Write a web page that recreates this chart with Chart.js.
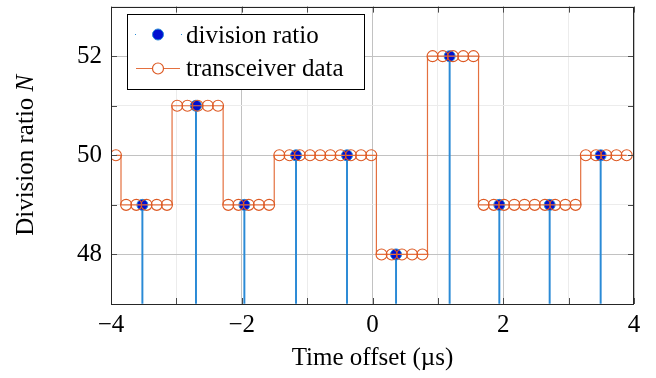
<!DOCTYPE html>
<html>
<head>
<meta charset="utf-8">
<script src="https://cdn.jsdelivr.net/npm/chart.js@4.4.1/dist/chart.umd.min.js"></script>
<style>
  html, body { margin: 0; padding: 0; background: #fff; }
  #wrap { width: 656px; height: 378px; }
</style>
</head>
<body>
<div id="wrap"><canvas id="chart"></canvas></div>
<script>
// Division ratio vs. time offset — stems + stepped transceiver samples

const FONT = "'Liberation Serif', 'Times New Roman', serif";

// transceiver samples (µs) and their division ratio
const sampleTimes = [
  -3.925, -3.769, -3.613, -3.456, -3.300, -3.144, -2.988, -2.831, -2.675, -2.519,
  -2.363, -2.206, -2.050, -1.894, -1.738, -1.581, -1.425, -1.269, -1.113, -0.956,
  -0.800, -0.644, -0.488, -0.331, -0.175, -0.019,  0.138,  0.294,  0.450,  0.606,
   0.763,  0.919,  1.075,  1.231,  1.388,  1.544,  1.700,  1.856,  2.013,  2.169,
   2.325,  2.481,  2.638,  2.794,  2.950,  3.106,  3.263,  3.419,  3.575,  3.731,
   3.888
];
const transceiverN = [
  50, 49, 49, 49, 49, 49, 51, 51, 51, 51,
  51, 49, 49, 49, 49, 49, 50, 50, 50, 50,
  50, 50, 50, 50, 50, 50, 48, 48, 48, 48,
  48, 52, 52, 52, 52, 52, 49, 49, 49, 49,
  49, 49, 49, 49, 49, 49, 50, 50, 50, 50,
  50
];

// division ratio stems
const ratioTimes = [-3.52, -2.70, -1.96, -1.17, -0.39, 0.36, 1.18, 1.94, 2.71, 3.49];
const ratioN     = [49, 51, 49, 50, 50, 48, 52, 49, 49, 50];

const X_MIN = -4, X_MAX = 4, Y_MIN = 47, Y_MAX = 53;

const C_STEM = '#2a8ad6';
const C_DOT = '#0010d0';
const C_LINE = '#e4703f';
const C_CIRC = '#dd5a24';

const fmtNum = v => v < 0 ? '\u2212' + Math.abs(v) : String(v);

const pts = (xs, ys) => xs.map((x, i) => ({ x, y: ys[i] }));

// frame, inward ticks, axis titles and legend box
const decorPlugin = {
  id: 'decor',
  afterDatasetsDraw(chart) {
    const { ctx, chartArea: a, scales: { x, y } } = chart;
    ctx.save();
    ctx.strokeStyle = '#4a4a4a';
    ctx.lineWidth = 1;
    ctx.beginPath();
    for (let v = X_MIN; v <= X_MAX; v++) {
      const px = Math.round(x.getPixelForValue(v)) + 0.5;
      ctx.moveTo(px, a.bottom); ctx.lineTo(px, a.bottom - 6);
      ctx.moveTo(px, a.top); ctx.lineTo(px, a.top + 6);
    }
    for (let v = Y_MIN; v <= Y_MAX; v++) {
      const py = Math.round(y.getPixelForValue(v)) + 0.5;
      ctx.moveTo(a.left, py); ctx.lineTo(a.left + 6, py);
      ctx.moveTo(a.right, py); ctx.lineTo(a.right - 6, py);
    }
    ctx.stroke();
    ctx.strokeStyle = '#262626';
    ctx.strokeRect(Math.round(a.left) + 0.5, Math.round(a.top) + 0.5,
                   Math.round(a.right - a.left) - 1, Math.round(a.bottom - a.top));
    ctx.restore();
  },
  afterDraw(chart) {
    const { ctx, chartArea: a } = chart;
    ctx.save();
    ctx.fillStyle = '#000';

    // x title
    ctx.font = `25px ${FONT}`;
    ctx.textAlign = 'center';
    ctx.textBaseline = 'middle';
    ctx.fillText('Time offset (\u00b5s)', (a.left + a.right) / 2, 358);

    // y title with italic N
    const t1 = 'Division ratio ', t2 = 'N';
    ctx.font = `25px ${FONT}`;
    const w1 = ctx.measureText(t1).width;
    ctx.font = `italic 25px ${FONT}`;
    const w2 = ctx.measureText(t2).width;
    ctx.translate(26, (a.top + a.bottom) / 2);
    ctx.rotate(-Math.PI / 2);
    ctx.textAlign = 'left';
    ctx.font = `25px ${FONT}`;
    ctx.fillText(t1, -(w1 + w2) / 2, 0);
    ctx.font = `italic 25px ${FONT}`;
    ctx.fillText(t2, -(w1 + w2) / 2 + w1, 0);
    ctx.setTransform(1, 0, 0, 1, 0, 0);

    // legend
    const lx = 127, ly = 14, lw = 237, lh = 75;
    ctx.fillStyle = '#fff';
    ctx.fillRect(lx, ly, lw, lh);
    ctx.strokeStyle = '#000';
    ctx.lineWidth = 1;
    ctx.strokeRect(lx + 0.5, ly + 0.5, lw, lh);

    // entry 1: dot
    ctx.fillStyle = C_STEM;
    ctx.fillRect(135, 34, 1, 1);
    ctx.fillRect(181, 34, 1, 1);
    ctx.beginPath();
    ctx.arc(158, 34.5, 5.5, 0, Math.PI * 2);
    ctx.fillStyle = C_DOT;
    ctx.fill();
    ctx.strokeStyle = C_STEM;
    ctx.stroke();

    // entry 2: line + circle
    ctx.strokeStyle = C_LINE;
    ctx.lineWidth = 1.2;
    ctx.beginPath();
    ctx.moveTo(136, 68.5); ctx.lineTo(180, 68.5);
    ctx.stroke();
    ctx.beginPath();
    ctx.arc(158, 68.5, 5.5, 0, Math.PI * 2);
    ctx.fillStyle = '#fff';
    ctx.fill();
    ctx.strokeStyle = C_CIRC;
    ctx.stroke();

    ctx.fillStyle = '#000';
    ctx.font = `25px ${FONT}`;
    ctx.textAlign = 'left';
    ctx.textBaseline = 'alphabetic';
    ctx.fillText('division ratio', 186, 43);
    ctx.fillText('transceiver data', 186, 76);
    ctx.restore();
  }
};

new Chart(document.getElementById('chart'), {
  data: {
    datasets: [
      {
        type: 'line',
        label: 'transceiver data',
        data: pts(sampleTimes, transceiverN),
        stepped: 'middle',
        borderColor: C_LINE,
        borderWidth: 1.2,
        pointRadius: 5.5,
        pointBorderWidth: 1.1,
        pointBorderColor: C_CIRC,
        pointBackgroundColor: 'rgba(0,0,0,0)',
        fill: false,
        order: 0
      },
      {
        type: 'scatter',
        label: 'division ratio',
        data: pts(ratioTimes, ratioN),
        pointRadius: 5.5,
        pointBorderWidth: 1,
        pointBorderColor: C_STEM,
        pointBackgroundColor: C_DOT,
        order: 1
      },
      {
        type: 'bar',
        label: 'stems',
        data: pts(ratioTimes, ratioN),
        base: Y_MIN,
        backgroundColor: C_STEM,
        barThickness: 1.3,
        order: 2
      }
    ]
  },
  options: {
    responsive: true,
    maintainAspectRatio: false,
    animation: false,
    layout: { padding: { left: 0, top: 4, right: 22, bottom: 0 } },
    plugins: {
      legend: { display: false },
      tooltip: { enabled: false }
    },
    scales: {
      x: {
        type: 'linear',
        min: X_MIN,
        max: X_MAX,
        offset: false,
        afterFit: s => { s.height = 74; s.paddingLeft = 0; s.paddingRight = 0; },
        border: { display: false },
        grid: {
          offset: false,
          drawTicks: false,
          color: c => c.tick && c.tick.value % 2 === 0 ? '#c2c2c2' : '#ececec'
        },
        ticks: {
          stepSize: 1,
          padding: 6,
          maxRotation: 0,
          color: '#000',
          font: { family: FONT, size: 25 },
          callback: v => v % 2 === 0 ? fmtNum(v) : ''
        }
      },
      y: {
        type: 'linear',
        min: Y_MIN,
        max: Y_MAX,
        afterFit: s => { s.width = 111; s.paddingTop = 0; s.paddingBottom = 0; },
        border: { display: false },
        grid: {
          drawTicks: false,
          color: c => c.tick && c.tick.value % 2 === 0 ? '#c2c2c2' : '#ececec'
        },
        ticks: {
          stepSize: 1,
          padding: 9,
          color: '#000',
          font: { family: FONT, size: 25 },
          callback: v => v % 2 === 0 ? fmtNum(v) : ''
        }
      }
    }
  },
  plugins: [decorPlugin]
});
</script>
</body>
</html>
